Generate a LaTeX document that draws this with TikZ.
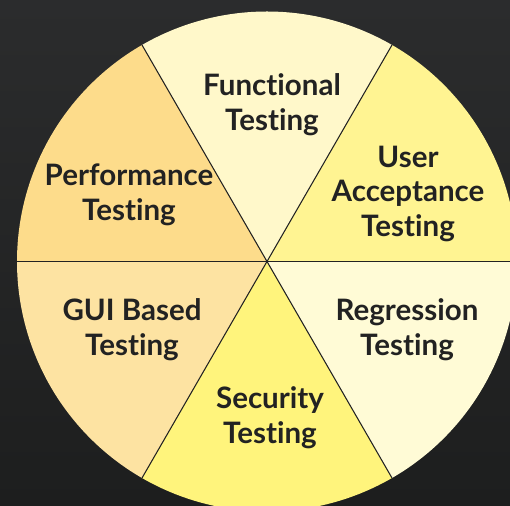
\documentclass[tikz,border=0pt]{standalone}
\usepackage{fontspec}
\setmainfont{Lato}[Ligatures=NoCommon]
\usetikzlibrary{calc}
\definecolor{bgtop}{HTML}{2B2C2D}
\definecolor{bgbot}{HTML}{1D1E1E}
\definecolor{functional}{HTML}{FFF8CA}
\definecolor{useracc}{HTML}{FFF492}
\definecolor{regression}{HTML}{FFFBD6}
\definecolor{security}{HTML}{FFF47C}
\definecolor{guibased}{HTML}{FDE3A2}
\definecolor{performance}{HTML}{FDDC8B}
\definecolor{inktext}{HTML}{222222}
\begin{document}
\begin{tikzpicture}[x=0.02cm, y=0.02cm]

      \tikzset{sectorlabel/.style={align=center, text=inktext, font=\fontsize{16.8pt}{19.9pt}\selectfont\bfseries},
               divider/.style={draw=inktext, line width=0.6pt}}
%% Frame
      	\useasboundingbox (0,0) rectangle (510,506);
      	\shade[top color=bgtop, bottom color=bgbot] (0,0) rectangle (510,506);
      	\clip (0,0) rectangle (510,506);
      	\coordinate (c) at (267,244.5);
%% Sectors
      	\fill[useracc]     (c) -- ++(0:250)   arc[start angle=0,   end angle=60,  radius=250] -- cycle;
      	\fill[functional]  (c) -- ++(60:250)  arc[start angle=60,  end angle=120, radius=250] -- cycle;
      	\fill[performance] (c) -- ++(120:250) arc[start angle=120, end angle=180, radius=250] -- cycle;
      	\fill[guibased]    (c) -- ++(180:250) arc[start angle=180, end angle=240, radius=250] -- cycle;
      	\fill[security]    (c) -- ++(240:250) arc[start angle=240, end angle=300, radius=250] -- cycle;
      	\fill[regression]  (c) -- ++(300:250) arc[start angle=300, end angle=360, radius=250] -- cycle;
%% Rim points
      	\coordinate (r0)   at ($(c)+(0:250)$);
      	\coordinate (r60)  at ($(c)+(60:250)$);
      	\coordinate (r120) at ($(c)+(120:250)$);
      	\coordinate (r180) at ($(c)+(180:250)$);
      	\coordinate (r240) at ($(c)+(240:250)$);
      	\coordinate (r300) at ($(c)+(300:250)$);
%Dividers
		\path [divider] (c) -- (r0);
		\path [divider] (c) -- (r60);
		\path [divider] (c) -- (r120);
		\path [divider] (c) -- (r180);
		\path [divider] (c) -- (r240);
		\path [divider] (c) -- (r300);
%Labels
		\node[sectorlabel] (functional)  at (272,401) {Functional\\Testing};
		\node[sectorlabel] (useracc)     at (408,312) {User\\Acceptance\\Testing};
		\node[sectorlabel] (regression)  at (407,176) {Regression\\Testing};
		\node[sectorlabel] (security)    at (270,88)  {Security\\Testing};
		\node[sectorlabel] (guibased)    at (132,176) {GUI Based\\Testing};
		\node[sectorlabel] (performance) at (129,311) {Performance\\Testing};

	\end{tikzpicture}
\end{document}
